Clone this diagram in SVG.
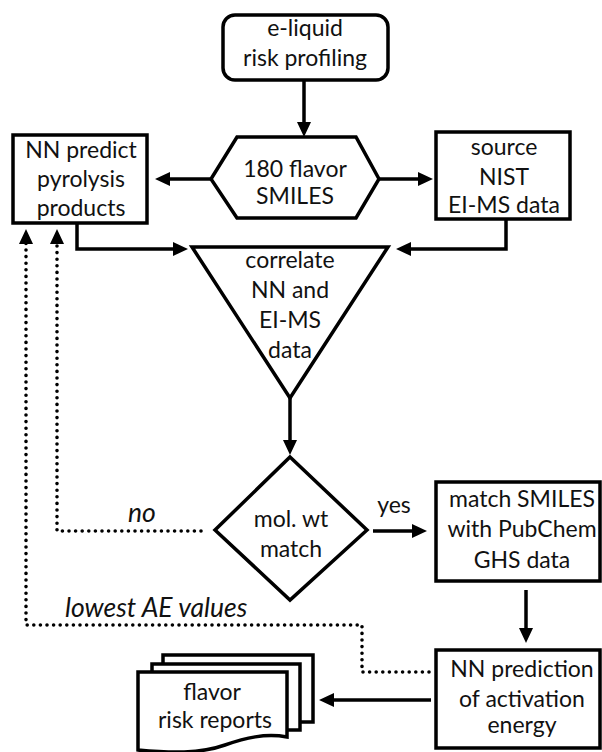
<svg xmlns="http://www.w3.org/2000/svg" width="602" height="752" viewBox="0 0 602 752">
  <style>
    .shape { fill: #fff; stroke: #000; stroke-width: 3.5; stroke-linejoin: miter; }
    .label { font-family: Lato, "Liberation Sans", sans-serif; font-size: 23px; fill: #111; text-anchor: middle; }
    .note { font-family: Lato, "Liberation Sans", sans-serif; font-size: 26.5px; font-style: italic; fill: #111; }
    .flow { fill: none; stroke: #000; stroke-width: 3.5; marker-end: url(#head); }
    .loop { fill: none; stroke: #000; stroke-width: 3.6; stroke-linecap: round; stroke-dasharray: 0 6.6; marker-end: url(#head); }
  </style>
  <defs>
    <marker id="head" viewBox="0 0 15 14" refX="3" refY="7" markerWidth="15" markerHeight="14" markerUnits="userSpaceOnUse" orient="auto">
      <path d="M0,0 L15,7 L0,14 Z" fill="#000"/>
    </marker>
  </defs>
  <rect width="602" height="752" fill="#fff"/>

  <g id="connectors">
    <path class="flow" d="M304,80 V125"/>
    <path class="flow" d="M211,179 H167"/>
    <path class="flow" d="M379,179 H421"/>
    <path class="flow" d="M77,223 V249 H176"/>
    <path class="flow" d="M506,219 V249 H408"/>
    <path class="flow" d="M290,398 V443"/>
    <path class="flow" d="M373,531 H415"/>
    <path class="flow" d="M526,590 V631"/>
    <path class="flow" d="M431,700 H331"/>
    <path class="loop" d="M201,531 H57 V241"/>
    <path class="loop" d="M429,672 H362 V625 H26 V241"/>
    <text class="note" x="128" y="522">no</text>
    <text class="label" x="394" y="513">yes</text>
    <text class="note" x="65" y="617">lowest AE values</text>
  </g>

  <g id="eliquid">
    <rect class="shape" x="223" y="15" width="165" height="65" rx="12"/>
    <text class="label" x="305" y="36">e-liquid</text>
    <text class="label" x="305" y="66">risk profiling</text>
  </g>

  <g id="smiles">
    <polygon class="shape" points="211,179 237,137 356,137 379,179 356,218 237,218"/>
    <text class="label" x="295" y="177">180 flavor</text>
    <text class="label" x="295" y="204">SMILES</text>
  </g>

  <g id="nn-pyrolysis">
    <rect class="shape" x="13" y="135" width="134" height="88"/>
    <text class="label" x="81" y="158">NN predict</text>
    <text class="label" x="81" y="187">pyrolysis</text>
    <text class="label" x="81" y="216">products</text>
  </g>

  <g id="nist">
    <rect class="shape" x="436" y="132" width="134" height="87"/>
    <text class="label" x="504" y="155">source</text>
    <text class="label" x="504" y="185">NIST</text>
    <text class="label" x="504" y="213">EI-MS data</text>
  </g>

  <g id="correlate">
    <polygon class="shape" points="192,247 388,247 290,398"/>
    <text class="label" x="290" y="268">correlate</text>
    <text class="label" x="290" y="298">NN and</text>
    <text class="label" x="290" y="328">EI-MS</text>
    <text class="label" x="290" y="358">data</text>
  </g>

  <g id="molwt">
    <polygon class="shape" points="290,457 367,530 290,600 215,530"/>
    <text class="label" x="291" y="527">mol. wt</text>
    <text class="label" x="291" y="557">match</text>
  </g>

  <g id="pubchem">
    <rect class="shape" x="436" y="482" width="164" height="99"/>
    <text class="label" x="522" y="507">match SMILES</text>
    <text class="label" x="522" y="537">with PubChem</text>
    <text class="label" x="522" y="568">GHS data</text>
  </g>

  <g id="activation">
    <rect class="shape" x="436" y="650" width="164" height="98"/>
    <text class="label" x="522" y="677">NN prediction</text>
    <text class="label" x="522" y="707">of activation</text>
    <text class="label" x="522" y="733">energy</text>
  </g>

  <g id="reports">
    <path class="shape" d="M163,655 H313 V722 H163 Z"/>
    <path class="shape" d="M152,664 H300 V730 H152 Z"/>
    <path class="shape" d="M138,672 H287 V737 C265,733 245,738 225,745 C200,754 170,753 138,750 Z"/>
    <text class="label" x="212" y="700">flavor</text>
    <text class="label" x="215" y="728">risk reports</text>
  </g>
</svg>
